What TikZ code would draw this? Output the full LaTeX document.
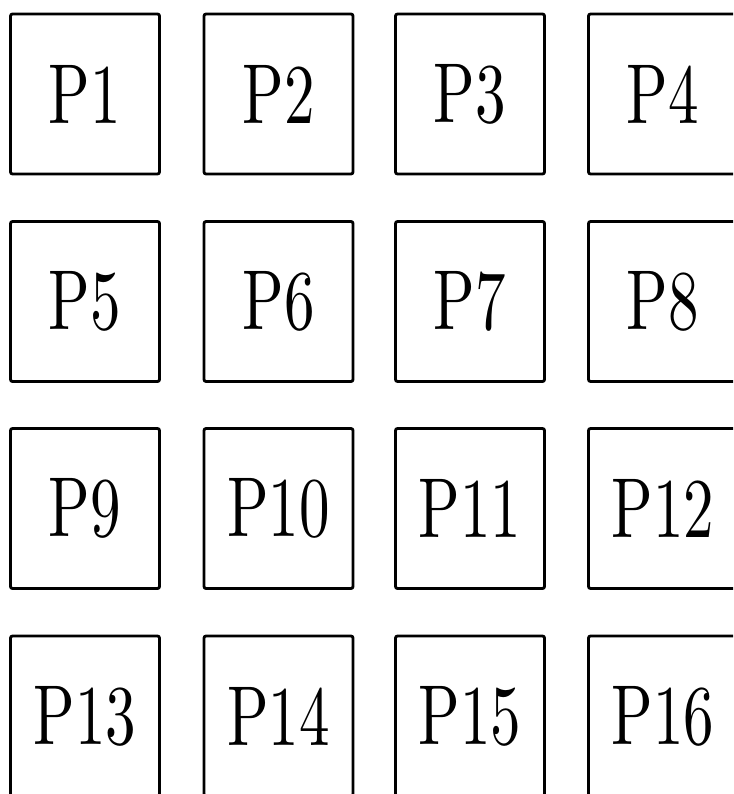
\documentclass[tikz,border=0pt]{standalone}
\usepackage{graphicx}
\begin{document}
\begin{tikzpicture}[x=1pt,y=-1pt,
  cell/.style={draw=black, line width=2.8pt, rounded corners=2pt, inner sep=0pt,
    minimum width=149pt, minimum height=160pt,
    font=\fontsize{10}{12}\selectfont},
]
\useasboundingbox (0,0) rectangle (733,794);
\clip (0,0) rectangle (733,794);
\newcommand{\lbl}[1]{\scalebox{6.1}[8.5]{#1}}
\foreach \r/\cy in {0/94,1/301.5,2/508.5,3/716}{
  \foreach \c/\cx in {1/85,2/278.5,3/470,4/663}{
    \pgfmathtruncatemacro{\n}{\r*4+\c}
    \node[cell] (p\n) at (\cx,\cy) {\lbl{P\n}};
  }
}
\end{tikzpicture}
\end{document}
